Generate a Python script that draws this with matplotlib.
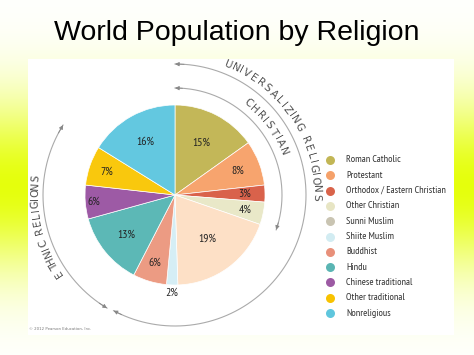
import numpy as np
import matplotlib
matplotlib.use('Agg')
import matplotlib.pyplot as plt
from matplotlib.patches import Rectangle

# Datos del grafico
religions = ['Roman Catholic', 'Protestant', 'Orthodox / Eastern Christian',
             'Other Christian', 'Sunni Muslim', 'Shiite Muslim', 'Buddhist',
             'Hindu', 'Chinese traditional', 'Other traditional', 'Nonreligious']
shares = [15, 8, 3, 4, 19, 2, 6, 13, 6, 7, 16]
labels = ['15%', '8%', '3%', '4%', '19%', '2%', '6%', '13%', '6%', '7%', '16%']

slice_colors = ['#c3b758', '#f7a46e', '#d9624b', '#e9e8c8', '#fde0c6', '#d5eef5',
                '#ec9b83', '#5cb8b6', '#9d5aa5', '#f9c80d', '#63c8e0']
legend_colors = ['#c2b655', '#f5a16a', '#d9634a', '#e7e5c4', '#c9c4b2', '#d2ecf2',
                 '#e8907a', '#5ab5b3', '#9c5aa3', '#f8c200', '#5fc6dd']
label_r = [0.65, 0.75, 0.77, 0.80, 0.60, 1.09, 0.79, 0.70, 0.90, 0.80, 0.68]

W, H = 474, 355
cx, cy, R = 175, 160, 90
narrow = ['PT Sans Narrow', 'DejaVu Sans']

fig = plt.figure(figsize=(W / 100, H / 100), dpi=100)
ax = fig.add_axes([0, 0, 1, 1])

# fondo con degrade amarillo verdoso
yy = np.arange(H)[:, None]
f = np.exp(-((yy - 185) / 85.0) ** 2) * np.ones((1, W))
base = np.array([0.90, 1.0, 0.05])
bg = 1 - f[..., None] * (1 - base)
ax.imshow(bg, extent=(0, W, 0, H), origin='upper', zorder=0, aspect='auto')
ax.add_patch(Rectangle((28, 20), 426, 276, facecolor='white', edgecolor='none', zorder=1))

wedges, _ = ax.pie(shares, colors=slice_colors, startangle=90, counterclock=False,
                   center=(cx, cy), radius=R,
                   wedgeprops=dict(edgecolor='white', linewidth=0.5, zorder=2))

for w, lab, lr in zip(wedges, labels, label_r):
    a = np.deg2rad((w.theta1 + w.theta2) / 2)
    ax.text(cx + lr * R * np.cos(a), cy + lr * R * np.sin(a), lab,
            ha='center', va='center', fontsize=8.5, color='#222222',
            family=narrow, zorder=3)


def arc(r, a0, a1):
    t = np.deg2rad(np.linspace(a0, a1, 200))
    ax.plot(cx + r * np.cos(t), cy + r * np.sin(t), color='#aaaaaa', lw=0.8, zorder=2)
    for a_end, a_prev in ((a0, a0 + np.sign(a1 - a0) * 4), (a1, a1 - np.sign(a1 - a0) * 4)):
        e, p = np.deg2rad(a_end), np.deg2rad(a_prev)
        ax.annotate('', xy=(cx + r * np.cos(e), cy + r * np.sin(e)),
                    xytext=(cx + r * np.cos(p), cy + r * np.sin(p)),
                    arrowprops=dict(arrowstyle='-|>', color='#888888', lw=0.6,
                                    mutation_scale=6, shrinkA=0, shrinkB=0),
                    zorder=3)


def arc_text(s, r, a0, a1, size=7.5):
    wd = np.array([0.45 if c == 'I' else 0.7 if c == ' ' else 1.0 for c in s])
    pos = np.cumsum(wd) - wd / 2
    pos = (pos - pos[0]) / (pos[-1] - pos[0])
    for ch, u in zip(s, pos):
        a = a0 + (a1 - a0) * u
        t = np.deg2rad(a)
        ax.text(cx + r * np.cos(t), cy + r * np.sin(t), ch, rotation=a - 90,
                rotation_mode='anchor', ha='center', va='center',
                fontsize=size, color='#505050', family=['DejaVu Sans'], zorder=3)


arc(107, 90, -19)
arc(131, 90, -118)
arc(132, 148, 239)
arc_text('UNIVERSALIZING RELIGIONS', 141, 68, -1)
arc_text('CHRISTIAN', 117, 51.6, 22)
arc_text('ETHNIC RELIGIONS', 140, 213.7, 173)

# leyenda
for i, (name, col) in enumerate(zip(religions, legend_colors)):
    y = H - (160 + i * 15.3)
    ax.scatter([330], [y], s=42, color=col, zorder=3, linewidths=0)
    ax.text(346, y, name, ha='left', va='center', fontsize=7.3,
            color='#333333', family=narrow, zorder=3)

ax.text(W / 2, H - 40, 'World Population by Religion', ha='center', va='baseline',
        fontsize=20.5, color='black', family=['Liberation Sans', 'DejaVu Sans'])
ax.text(29, H - 330, '\u00a9 2012 Pearson Education, Inc.', fontsize=2.8,
        color='#777777', family=['DejaVu Sans'], zorder=3)

ax.set_xlim(0, W)
ax.set_ylim(0, H)
ax.set_aspect('auto')
ax.axis('off')

plt.savefig('out.png', dpi=100)
plt.close()
